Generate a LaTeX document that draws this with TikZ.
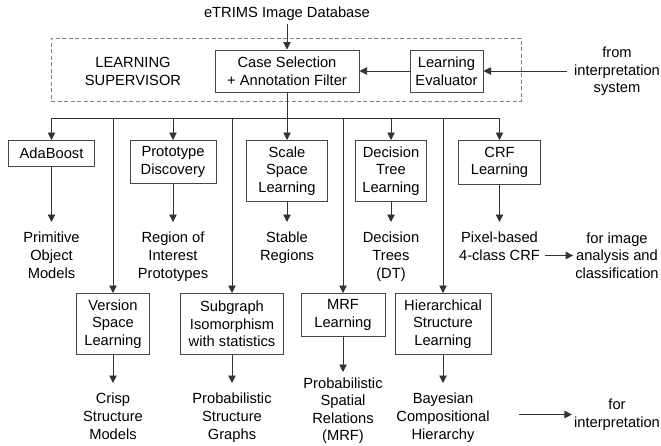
\documentclass[tikz,border=0pt]{standalone}
\usepackage{fontspec}
\setmainfont{Liberation Sans}
\usetikzlibrary{arrows.meta}
\begin{document}
\begin{tikzpicture}[x=1pt,y=-1pt,
  font=\fontsize{14.7}{17.6}\selectfont,
  every node/.style={text=black},
  box/.style={draw=black!72, line width=1pt, align=center, inner sep=0pt},
  outtext/.style={align=center, anchor=north, inner xsep=2pt, inner ysep=10pt},
  side/.style={align=center, inner xsep=2pt, inner ysep=0pt},
  conn/.style={draw=black!80, line width=0.9pt},
  arr/.style={conn, -{Triangle[length=7.5pt,width=7.5pt]}},
  dashbox/.style={draw=black!50, line width=1pt, dash pattern=on 4pt off 2.5pt}
]
\useasboundingbox (0,0) rectangle (661,445);

% top
\node (db) [inner sep=3pt] at (287,14) {eTRIMS Image Database};
\node (sup) [dashbox, minimum width=470pt, minimum height=63pt, inner sep=0pt] at (286,69.5) {};
\node (suptxt) [align=center] at (133,71.5) {LEARNING\\SUPERVISOR};
\node (case) [box, minimum width=144pt, minimum height=42pt] at (287,71) {Case Selection\\+ Annotation Filter};
\node (eval) [box, minimum width=73pt, minimum height=42pt] at (446.5,71) {Learning\\Evaluator};
\node (from) [side, inner xsep=7pt] at (617,71.5) {from\\interpretation\\system};

\draw[arr] (db.south) -- (case.north);
\draw[arr] (eval.west) -- (case.east);
\draw[arr] (from.west |- eval.east) -- (eval.east);

% row 1 boxes
\node (ada)  [box, minimum width=86pt, minimum height=26pt, anchor=north] at (51.5,140) {AdaBoost};
\node (proto)[box, minimum width=86pt, minimum height=43pt, anchor=north] at (173,140) {Prototype\\Discovery};
\node (scale)[box, minimum width=81pt, minimum height=61pt, anchor=north] at (287,140) {Scale\\Space\\Learning};
\node (dt)   [box, minimum width=71pt, minimum height=61pt, anchor=north] at (391,140) {Decision\\Tree\\Learning};
\node (crf)  [box, minimum width=82pt, minimum height=44pt, anchor=north] at (499.5,140) {CRF\\Learning};

% row 2 boxes
\node (vs)   [box, minimum width=73pt, minimum height=61pt, anchor=north] at (113,293) {Version\\Space\\Learning};
\node (sub)  [box, minimum width=103pt, minimum height=61pt, anchor=north] at (232,293) {Subgraph\\Isomorphism\\with statistics};
\node (mrf)  [box, minimum width=84pt, minimum height=43pt, anchor=north] at (343,293) {MRF\\Learning};
\node (hier) [box, minimum width=96pt, minimum height=61pt, anchor=north] at (443,293) {Hierarchical\\Structure\\Learning};

% bus
\coordinate (busL) at (51.5,118);
\coordinate (busR) at (499.5,118);
\draw[conn] (busL) -- (busR);
\draw[arr] (case.south) -- (scale.north);
\draw[arr] (busL) -- (ada.north);
\draw[arr] (proto.north |- busL) -- (proto.north);
\draw[arr] (dt.north |- busL) -- (dt.north);
\draw[arr] (busR) -- (crf.north);
\draw[arr] (vs.north |- busL) -- (vs.north);
\draw[arr] (sub.north |- busL) -- (sub.north);
\draw[arr] (mrf.north |- busL) -- (mrf.north);
\draw[arr] (hier.north |- busL) -- (hier.north);

% outputs row 1
\node (o1) [outtext] at (51.5,222) {Primitive\\Object\\Models};
\node (o2) [outtext] at (173,222) {Region of\\Interest\\Prototypes};
\node (o3) [outtext] at (287,222) {Stable\\Regions};
\node (o4) [outtext] at (391,222) {Decision\\Trees\\(DT)};
\node (o5) [outtext, inner xsep=5pt] at (499.5,222) {Pixel-based\\4-class CRF};
\node (anal) [side] at (617,255.5) {for image\\analysis and\\classification};

\draw[arr] (ada.south) -- (o1.north);
\draw[arr] (proto.south) -- (o2.north);
\draw[arr] (scale.south) -- (o3.north);
\draw[arr] (dt.south) -- (o4.north);
\draw[arr] (crf.south) -- (o5.north);
\draw[arr] (o5.east |- anal.west) -- (anal.west);

% outputs row 2
\node (p1) [outtext] at (113,383) {Crisp\\Structure\\Models};
\node (p2) [outtext] at (232,383) {Probabilistic\\Structure\\Graphs};
\node (p3) [outtext, inner ysep=6pt, font=\fontsize{14.7}{17.1}\selectfont] at (343,372) {Probabilistic\\Spatial\\Relations\\(MRF)};
\node (p4) [outtext] at (443,383) {Bayesian\\Compositional\\Hierarchy};
\node (interp) [side] at (617,414.5) {for\\interpretation};

\draw[arr] (vs.south) -- (p1.north);
\draw[arr] (sub.south) -- (p2.north);
\draw[arr] (mrf.south) -- (p3.north);
\draw[arr] (hier.south) -- (p4.north);
\draw[arr, shorten <=27pt] (p4.east |- interp.west) -- (interp.west);
\end{tikzpicture}
\end{document}
